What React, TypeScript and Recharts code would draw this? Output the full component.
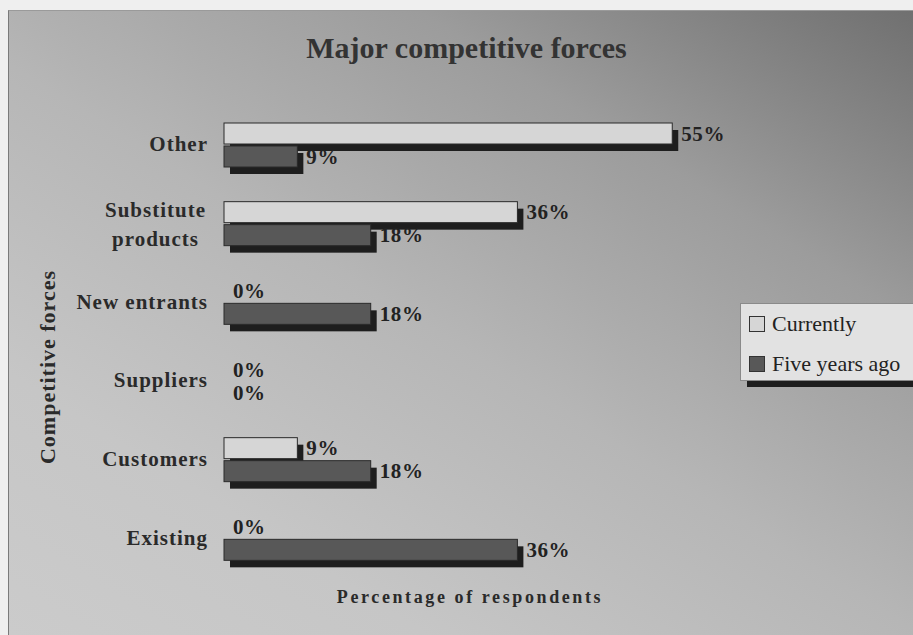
import React from 'react';
import { BarChart, Bar, XAxis, YAxis, LabelList } from 'recharts';

// categories, top to bottom
const categories = ['Other', 'Substitute products', 'New entrants', 'Suppliers', 'Customers', 'Existing'];
// percentage of respondents
const currently = [55, 36, 0, 0, 9, 0];
const fiveYearsAgo = [9, 18, 18, 0, 18, 36];
const seriesNames = ['Currently', 'Five years ago'];
const seriesColors = ['#d6d6d6', '#585858'];

const data = categories.map((name, i) => ({
  name,
  currently: currently[i],
  fiveYearsAgo: fiveYearsAgo[i],
}));

const FONT = '"Liberation Serif", "Times New Roman", serif';

// bar with an offset drop shadow
const ShadowBar = (props: any) => {
  const { x, y, width, height, fill } = props;
  if (!width || width <= 0) return <g />;
  return (
    <g>
      <rect x={x + 6} y={y + 7} width={width} height={height} fill="#1e1e1e" />
      <rect x={x} y={y} width={width} height={height} fill={fill} stroke="#2a2a2a" strokeWidth={1} />
    </g>
  );
};

const ValueLabel = (props: any) => {
  const { x, y, width, height, value } = props;
  return (
    <text
      x={x + width + 9}
      y={y + height / 2}
      dominantBaseline="central"
      fontFamily={FONT}
      fontWeight="bold"
      fontSize={21}
      letterSpacing={0.6}
      fill="#222"
    >
      {value}%
    </text>
  );
};

const CategoryTick = (props: any) => {
  const { x, y, payload } = props;
  const label: string = payload.value;
  const style = { fontFamily: FONT, fontWeight: 'bold' as const, fontSize: 21, letterSpacing: 1, fill: '#2a2a2a' };
  if (label.length > 14) {
    const lines = label.split(' ');
    const w = Math.max(...lines.map((l) => l.length)) * 10.5;
    return (
      <text x={x - w / 2} y={y} textAnchor="middle" {...style}>
        <tspan x={x - w / 2} dy={-7}>{lines[0]}</tspan>
        <tspan x={x - w / 2} dy={29}>{lines[1]}</tspan>
      </text>
    );
  }
  return (
    <text x={x} y={y} dy={6} textAnchor="end" {...style}>
      {label}
    </text>
  );
};

export default function App() {
  return (
    <div style={{ position: 'absolute', left: 0, top: 0, width: 913, height: 635, background: '#efefef', overflow: 'hidden', fontFamily: FONT }}>
      <div
        style={{
          position: 'absolute',
          left: 8,
          top: 10,
          width: 905,
          height: 625,
          boxSizing: 'border-box',
          borderLeft: '1px solid #7a7a7a',
          borderTop: '1px solid #9a9a9a',
          background: 'linear-gradient(212deg, #707070 0%, #9c9c9c 26%, #b6b6b6 52%, #c6c6c6 78%, #cbcbcb 100%)',
        }}
      />
      <div style={{ position: 'absolute', left: 0, width: 933, top: 30, textAlign: 'center', fontSize: 30, fontWeight: 'bold', color: '#333', lineHeight: '36px' }}>
        Major competitive forces
      </div>
      <div style={{ position: 'absolute', left: 48, top: 367, transform: 'translate(-50%, -50%) rotate(-90deg)', whiteSpace: 'nowrap', fontSize: 22, fontWeight: 'bold', letterSpacing: 1, color: '#2a2a2a' }}>
        Competitive forces
      </div>
      <div style={{ position: 'absolute', left: 470, top: 597, transform: 'translate(-50%, -50%)', whiteSpace: 'nowrap', fontSize: 18, fontWeight: 'bold', letterSpacing: 2.6, color: '#2a2a2a' }}>
        Percentage of respondents
      </div>
      <div style={{ position: 'absolute', left: 0, top: 0 }}>
        <BarChart
          width={913}
          height={635}
          data={data}
          layout="vertical"
          margin={{ top: 106, right: 200, bottom: 57, left: 24 }}
          barSize={21}
          barGap={2}
        >
          <XAxis type="number" domain={[0, 60]} hide />
          <YAxis type="category" dataKey="name" width={200} axisLine={false} tickLine={false} tickMargin={10} tick={<CategoryTick />} />
          <Bar dataKey="currently" name={seriesNames[0]} fill={seriesColors[0]} shape={<ShadowBar />} isAnimationActive={false}>
            <LabelList dataKey="currently" content={<ValueLabel />} />
          </Bar>
          <Bar dataKey="fiveYearsAgo" name={seriesNames[1]} fill={seriesColors[1]} shape={<ShadowBar />} isAnimationActive={false}>
            <LabelList dataKey="fiveYearsAgo" content={<ValueLabel />} />
          </Bar>
        </BarChart>
      </div>
      <div
        style={{
          position: 'absolute',
          left: 740,
          top: 303,
          width: 190,
          height: 78,
          boxSizing: 'border-box',
          background: '#e2e2e2',
          border: '1px solid #8a8a8a',
          boxShadow: '7px 6px 0 #1e1e1e',
          padding: '5px 0 0 8px',
        }}
      >
        {seriesNames.map((n, i) => (
          <div key={n} style={{ display: 'flex', alignItems: 'center', height: 30, marginBottom: 10, fontSize: 22, color: '#222' }}>
            <span style={{ display: 'inline-block', width: 14, height: 14, background: seriesColors[i], border: '1px solid #333', marginRight: 7 }} />
            {n}
          </div>
        ))}
      </div>
    </div>
  );
}
